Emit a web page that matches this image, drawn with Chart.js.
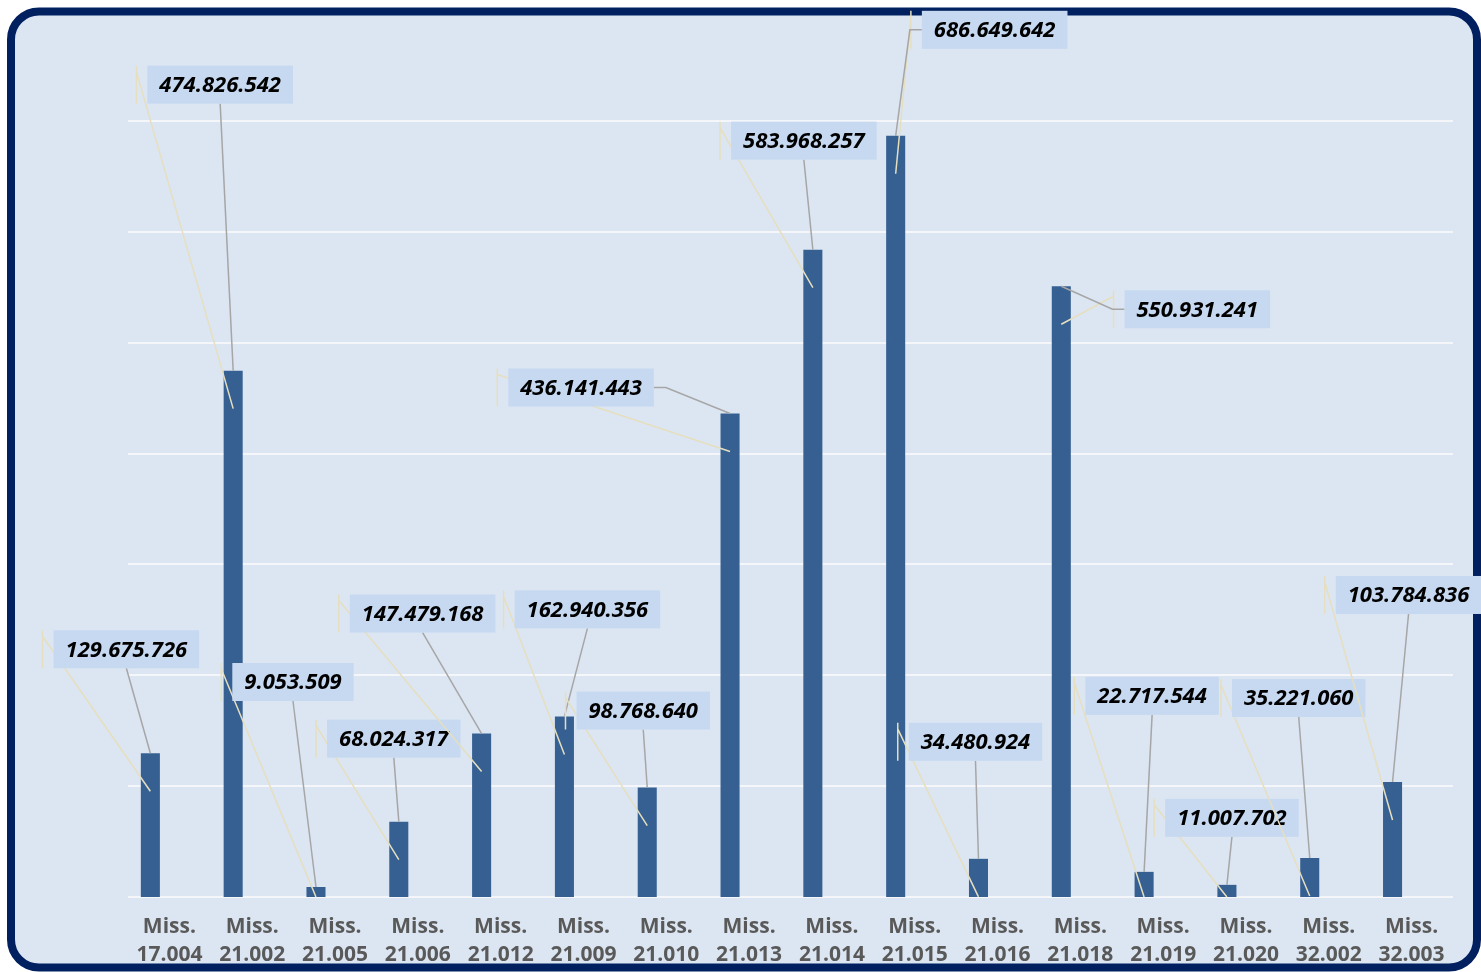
<!DOCTYPE html>
<html>
<head>
<meta charset="utf-8">
<script src="https://cdn.jsdelivr.net/npm/chart.js@4.4.1/dist/chart.umd.min.js"></script>
<style>
  html, body { margin: 0; padding: 0; background: #ffffff; }
  #wrap { width: 1481px; height: 972px; position: relative; }
</style>
</head>
<body>
<div id="wrap"><canvas id="myChart"></canvas></div>
<script>
// categories and values
const codes = ['17.004', '21.002', '21.005', '21.006', '21.012', '21.009', '21.010', '21.013',
  '21.014', '21.015', '21.016', '21.018', '21.019', '21.020', '32.002', '32.003'];
const amounts = [129675726, 474826542, 9053509, 68024317, 147479168, 162940356, 98768640, 436141443,
  583968257, 686649642, 34480924, 550931241, 22717544, 11007702, 35221060, 103784836];
// second, empty series of the original sheet (keeps the bars left of the labels)
const emptySeries = [0, 0, 0, 0, 0, 0, 0, 0, 0, 0, 0, 0, 0, 0, 0, 0];

// where each value box sits, relative to the top of its bar
const labelShift = [
  [-24, -104, 'b'], [-13, -286, 'b'], [-23, -205, 'b'], [-5, -83, 'b'],
  [-59, -120, 'b'], [23, -107, 'b'], [-4, -77, 'b'], [-149, -26, 'r'],
  [-9, -109, 'b'], [99, -106, 'l'], [-3, -117, 'b'], [136, 23, 'l'],
  [8, -176, 'b'], [5, -67, 'b'], [-11, -160, 'b'], [16, -187, 'b']
];

function dots(n) {
  return n.toString().replace(/\B(?=(\d{3})+(?!\d))/g, '.');
}

const frame = {
  id: 'frame',
  beforeDraw(chart) {
    const ctx = chart.ctx;
    ctx.save();
    ctx.fillStyle = '#ffffff';
    ctx.fillRect(0, 0, chart.width, chart.height);
    ctx.beginPath();
    ctx.roundRect(11, 11.5, 1466, 956, 28);
    ctx.fillStyle = '#dce6f2';
    ctx.fill();
    ctx.lineWidth = 8;
    ctx.strokeStyle = '#002060';
    ctx.stroke();
    ctx.restore();
  }
};

// horizontal grid, drawn from the y scale
const gridLines = {
  id: 'gridLines',
  beforeDatasetsDraw(chart) {
    const ctx = chart.ctx;
    const y = chart.scales.y;
    const a = chart.chartArea;
    ctx.save();
    ctx.strokeStyle = '#f4f6f9';
    ctx.lineWidth = 2;
    y.ticks.forEach(t => {
      const py = Math.round(y.getPixelForValue(t.value));
      ctx.beginPath();
      ctx.moveTo(a.left, py);
      ctx.lineTo(a.right, py);
      ctx.stroke();
    });
    ctx.restore();
  }
};

const valueBoxes = {
  id: 'valueBoxes',
  afterDatasetsDraw(chart) {
    const ctx = chart.ctx;
    const meta = chart.getDatasetMeta(0);
    const base = chart.scales.y.getPixelForValue(0);
    ctx.save();
    ctx.font = 'italic bold 22px "Open Sans"';
    meta.data.forEach((bar, i) => {
      const txt = dots(amounts[i]);
      const w = ctx.measureText(txt).width + 24;
      const h = 38;
      const cx = bar.x + labelShift[i][0];
      const cy = bar.y + labelShift[i][1];
      const left = cx - w / 2, top = cy - h / 2;
      const side = labelShift[i][2];

      // pale guide line
      const tx = left - 11;
      ctx.strokeStyle = '#e6dfbf';
      ctx.lineWidth = 1.5;
      ctx.beginPath();
      ctx.moveTo(tx, top);
      ctx.lineTo(tx, top + h);
      ctx.moveTo(tx, top + 6);
      ctx.lineTo(bar.x, Math.min(bar.y + 38, base));
      ctx.stroke();

      // grey leader
      ctx.strokeStyle = '#a6a6a6';
      ctx.lineWidth = 1.5;
      ctx.beginPath();
      if (side === 'b') {
        ctx.moveTo(cx, top + h);
        ctx.lineTo(bar.x, bar.y);
      } else if (side === 'r') {
        ctx.moveTo(left + w, cy);
        ctx.lineTo(left + w + 12, cy);
        ctx.lineTo(bar.x, bar.y);
      } else {
        ctx.moveTo(left, cy);
        ctx.lineTo(left - 12, cy);
        ctx.lineTo(bar.x, bar.y);
      }
      ctx.stroke();

      ctx.fillStyle = '#c6d9f1';
      ctx.fillRect(left, top, w, h);
      ctx.fillStyle = '#000000';
      ctx.textAlign = 'center';
      ctx.textBaseline = 'middle';
      ctx.fillText(txt, cx, cy + 1);
    });
    ctx.restore();
  }
};

new Chart(document.getElementById('myChart'), {
  type: 'bar',
  data: {
    labels: codes.map(c => ['Miss.', c]),
    datasets: [{
      data: amounts,
      backgroundColor: '#376092',
      borderWidth: 0,
      barPercentage: 0.5,
      categoryPercentage: 0.92
    }, {
      data: emptySeries,
      backgroundColor: 'rgba(0,0,0,0)',
      borderWidth: 0,
      barPercentage: 0.5,
      categoryPercentage: 0.92
    }]
  },
  options: {
    responsive: true,
    maintainAspectRatio: false,
    animation: false,
    layout: { padding: { left: 128, right: 28, top: 121, bottom: -13 } },
    plugins: {
      legend: { display: false },
      tooltip: { enabled: false }
    },
    scales: {
      x: {
        grid: { display: false, drawTicks: false, tickLength: 0 },
        border: { display: false },
        ticks: {
          color: '#595959',
          font: { family: 'Open Sans', size: 21, weight: 'bold', lineHeight: 1.38 },
          padding: 15,
          maxRotation: 0,
          autoSkip: false
        }
      },
      y: {
        min: 0,
        max: 700000000,
        ticks: { display: false, stepSize: 100000000 },
        border: { display: false },
        grid: { display: false, drawTicks: false }
      }
    }
  },
  plugins: [frame, gridLines, valueBoxes]
});
</script>
</body>
</html>
